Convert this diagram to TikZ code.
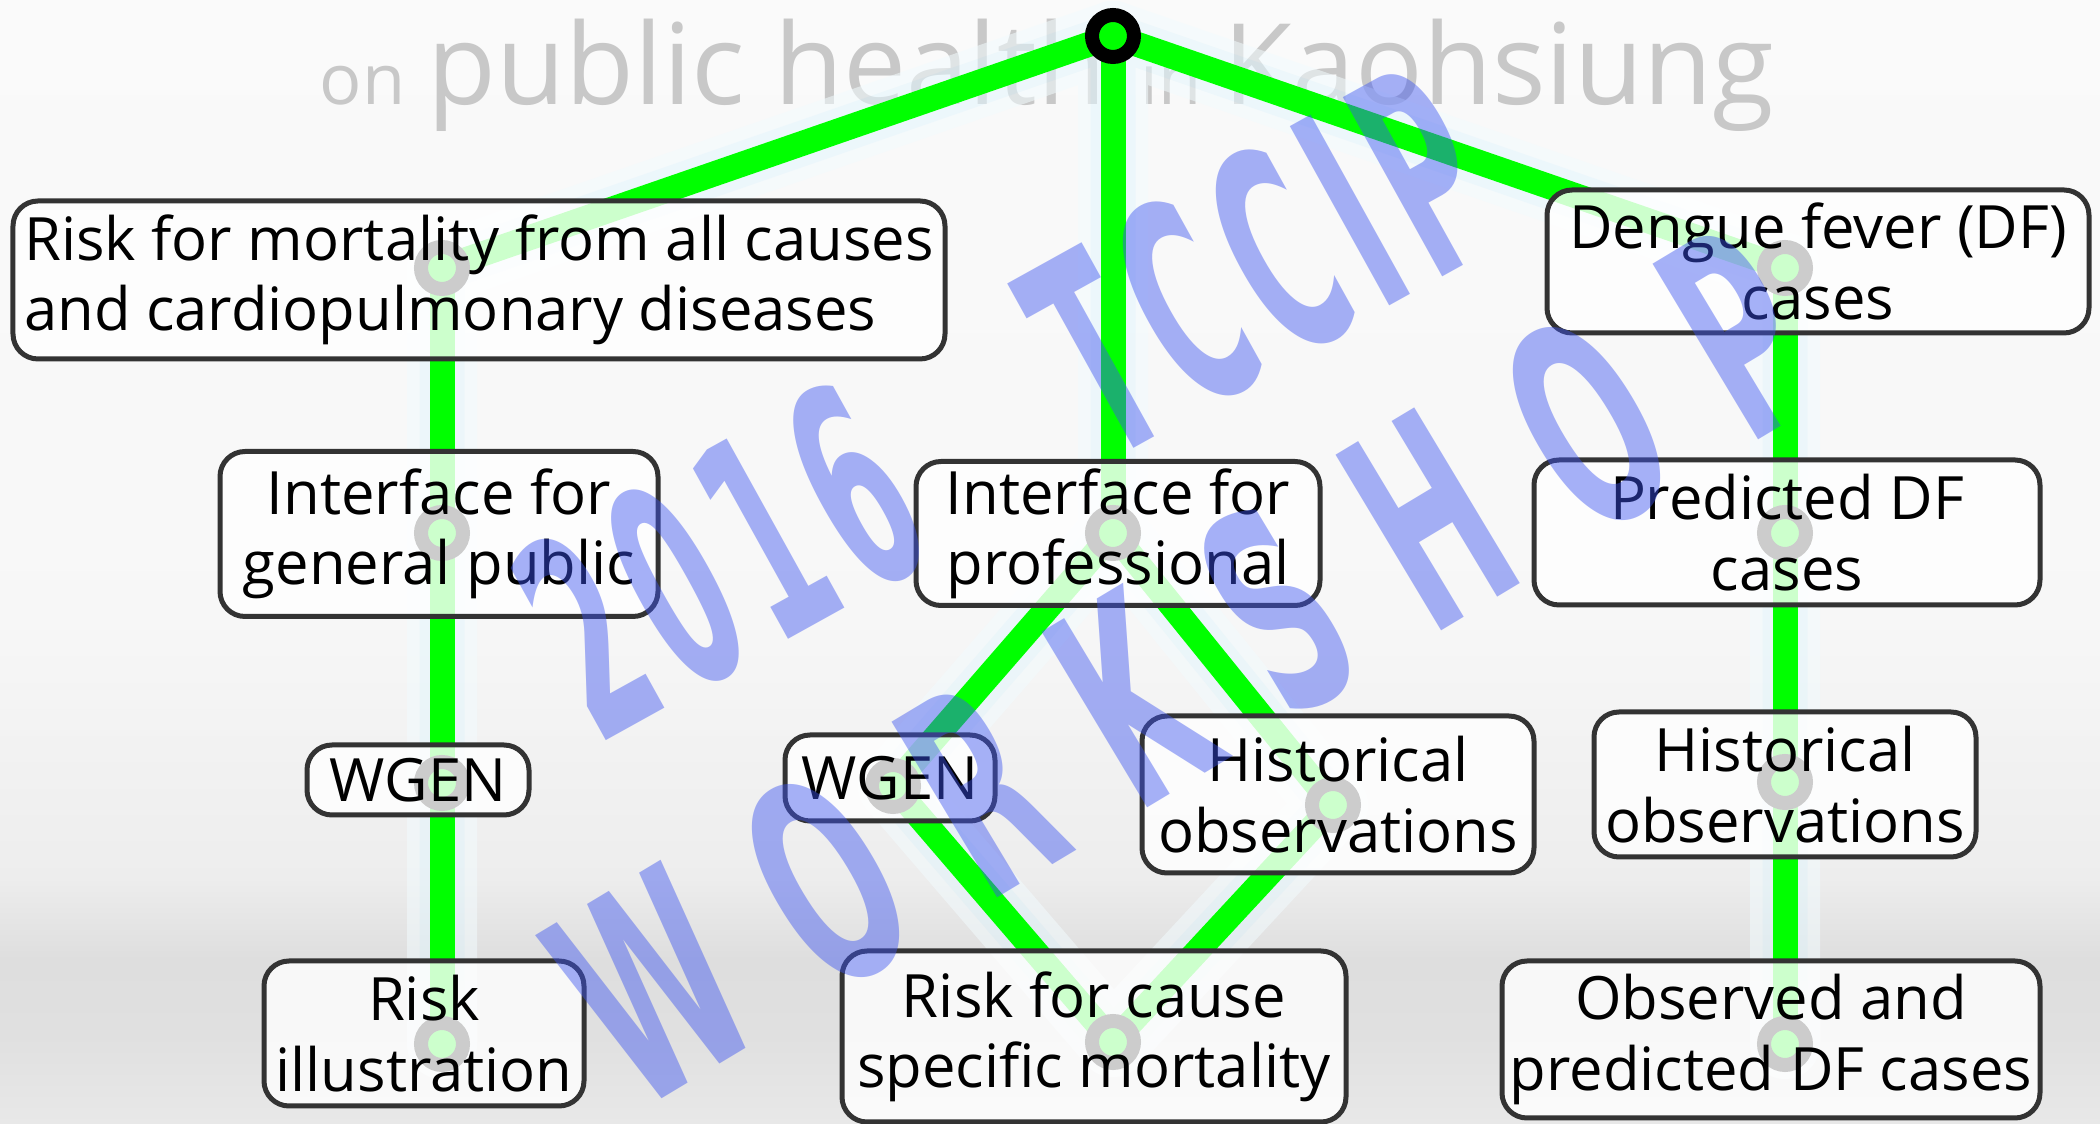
\documentclass[tikz,border=0pt]{standalone}
\usepackage{fontspec}
\setmainfont{Open Sans}
\newfontfamily\wmfont{DejaVu Sans}
\usepackage{tikz}
\usetikzlibrary{positioning,calc}

\definecolor{linegreen}{RGB}{0,255,0}
\definecolor{boxgray}{RGB}{51,51,51}
\definecolor{wmblue}{RGB}{60,84,240}
\definecolor{haze}{RGB}{200,200,200}

\pgfdeclarelayer{back}
\pgfdeclarelayer{glowl}
\pgfdeclarelayer{edges}
\pgfdeclarelayer{boxes}
\pgfdeclarelayer{front}
\pgfsetlayers{back,glowl,edges,main,boxes,front}

\pgfdeclareverticalshading{fog}{100bp}{color(0bp)=(black!9); color(25bp)=(black!9);
  color(28.7bp)=(black!12); color(32.3bp)=(black!13); color(36bp)=(black!7);
  color(48bp)=(black!3); color(75bp)=(black!2); color(100bp)=(black!2)}

\newcommand{\topicfont}{\fontsize{17}{20}\selectfont}
\newcommand{\wmg}{\hspace{0.3cm}}
\newcommand{\wmsp}{\hspace{4.2cm}}
\newcommand{\wmgg}{\hspace{1.33cm}}

\begin{document}
\begin{tikzpicture}[x=1cm,y=1cm,
  hub/.style={circle,draw=black,line width=0.14cm,fill=linegreen,minimum size=0.42cm,inner sep=0pt},
  branch/.style={draw=linegreen,line width=0.25cm},
  halo/.style={line cap=round,line join=round},
  topic/.style={draw=boxgray,line width=0.05cm,rounded corners=0.25cm,fill=white,
    fill opacity=0.8,text opacity=1,align=center,inner sep=0pt,font=\topicfont},
  bgword/.style={text=haze,inner sep=0pt,anchor=base west},
  wmtext/.style={text=wmblue,inner sep=0pt,font=\wmfont\bfseries\fontsize{80}{90}\selectfont}]

  % --- frame and backdrop ---
  \useasboundingbox (0,0) rectangle (21,-11.24);
  \begin{pgfonlayer}{back}
    \shade[shading=fog] (0,0) rectangle (21,-11.24);
    \node[bgword,font=\fontsize{20}{24}\selectfont] (on) at (3.19,-1.05) {on};
    \node[bgword,font=\fontsize{32}{38}\selectfont] (public) at (4.27,-1.05) {public health};
    \node[bgword,font=\fontsize{20}{24}\selectfont] (in) at (11.40,-1.05) {in};
    \node[bgword,font=\fontsize{32}{38}\selectfont] (city) at (12.23,-1.05) {Kaohsiung};
  \end{pgfonlayer}

  % --- anchor points of the tree ---
  \node[hub] (root) at (11.13,-0.36) {};
  \foreach \n/\x/\y in {mA/4.42/-2.68, mB/17.85/-2.68, mC/4.42/-5.33, mD/11.13/-5.33,
      mE/17.85/-5.33, mF/4.42/-7.83, mG/8.93/-7.86, mH/13.33/-8.05, mI/17.85/-7.82,
      mJ/17.85/-10.44, mK/11.13/-10.42, mL/4.42/-10.44}
    \node[hub] (\n) at (\x,\y) {};

  % --- branches ---
  \def\links{root/mA, mA/mC, mC/mF, mF/mL, root/mD, mD/mG, mD/mH, mG/mK, mH/mK,
    root/mB, mB/mE, mE/mI, mI/mJ}
  \begin{pgfonlayer}{glowl}
    \begin{scope}[transparency group,opacity=0.55]
      \foreach \a/\b in \links
        \draw[halo,cyan!5,line width=0.7cm] (\a.center) -- (\b.center);
      \foreach \a/\b in \links
        \draw[halo,cyan!11,line width=0.45cm] (\a.center) -- (\b.center);
    \end{scope}
  \end{pgfonlayer}
  \begin{pgfonlayer}{edges}
    \foreach \a/\b in \links
      \draw[branch] (\a.center) -- (\b.center);
  \end{pgfonlayer}

  % --- topic boxes ---
  \begin{pgfonlayer}{boxes}
    \node[topic,align=left,minimum width=9.32cm,minimum height=1.58cm] (allcause) at (4.79,-2.80)
      {Risk for mortality from all causes\\and cardiopulmonary diseases};
    \node[topic,minimum width=5.42cm,minimum height=1.43cm] (dengue) at (18.18,-2.615)
      {Dengue fever (DF)\\cases};
    \node[topic,minimum width=4.38cm,minimum height=1.65cm] (ifpublic) at (4.39,-5.34)
      {Interface for\\general public};
    \node[topic,minimum width=4.04cm,minimum height=1.44cm] (ifpro) at (11.18,-5.335)
      {Interface for\\professional};
    \node[topic,minimum width=5.06cm,minimum height=1.45cm] (preddf) at (17.87,-5.325)
      {Predicted DF\\cases};
    \node[topic,minimum width=2.22cm,minimum height=0.70cm] (wgenL) at (4.18,-7.80) {WGEN};
    \node[topic,minimum width=2.10cm,minimum height=0.86cm] (wgenM) at (8.90,-7.78) {WGEN};
    \node[topic,minimum width=3.92cm,minimum height=1.57cm] (histM) at (13.38,-7.945)
      {Historical\\observations};
    \node[topic,minimum width=3.82cm,minimum height=1.45cm] (histR) at (17.85,-7.845)
      {Historical\\observations};
    \node[topic,minimum width=5.38cm,minimum height=1.57cm] (obsdf) at (17.71,-10.395)
      {Observed and\\predicted DF cases};
    \node[topic,minimum width=5.04cm,minimum height=1.71cm] (specific) at (10.94,-10.365)
      {Risk for cause\\specific mortality};
    \node[topic,minimum width=3.20cm,minimum height=1.45cm] (illus) at (4.24,-10.335)
      {Risk\\illustration};
  \end{pgfonlayer}

  % --- watermark ---
  \begin{pgfonlayer}{front}
    \begin{scope}[transparency group,opacity=0.45]
      \node[wmtext,rotate=29] (wmyear) at (10.06,-4.02)
        {\scalebox{0.45}[1]{2\wmg 0\wmg 1\wmg 6\wmsp T\wmg C\wmg C\wmg I\wmg P}};
      \node[wmtext,rotate=31] (wmshop) at (11.84,-6.66)
        {\scalebox{0.5}[1]{W\wmgg O\wmgg R\wmgg K\wmgg S\wmgg H\wmgg O\wmgg P}};
    \end{scope}
  \end{pgfonlayer}
\end{tikzpicture}
\end{document}
